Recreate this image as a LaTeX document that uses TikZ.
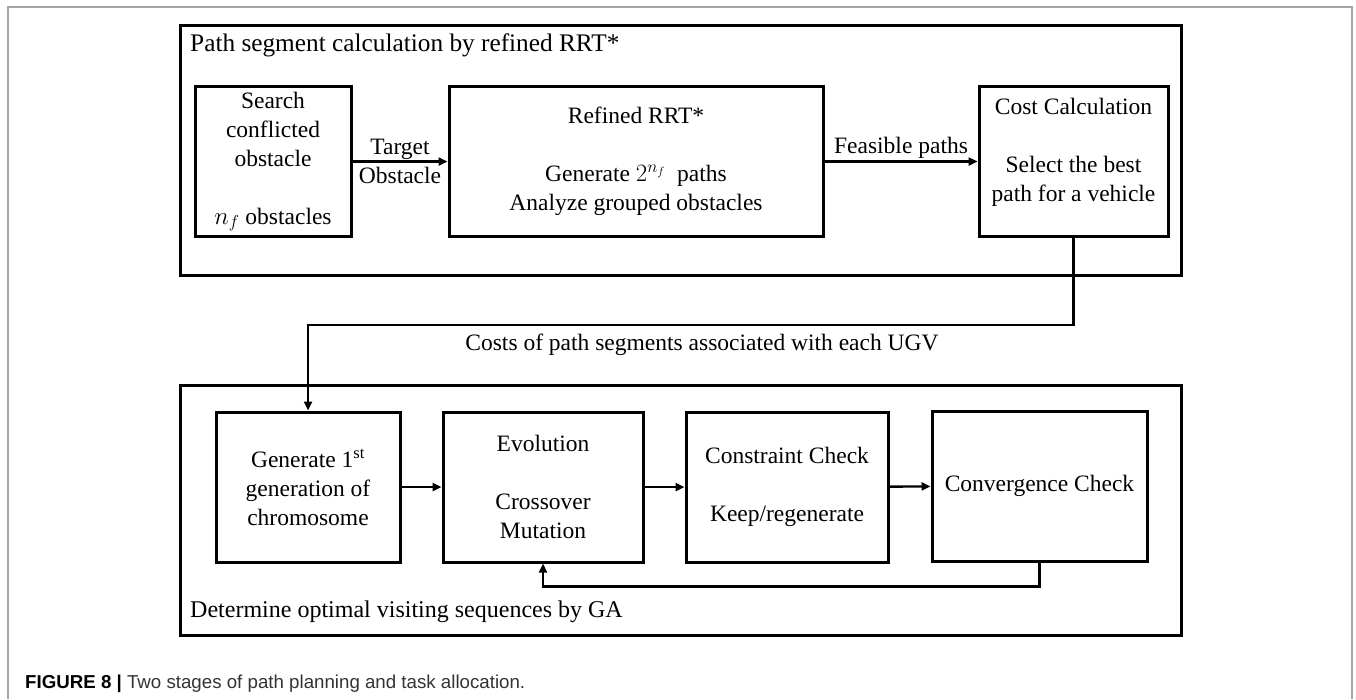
\documentclass[tikz,border=0pt]{standalone}
\usepackage{fontspec}
\setmainfont{Liberation Serif}
\newfontfamily\capfont{Liberation Sans}
\usetikzlibrary{arrows.meta}

\begin{document}
\begin{tikzpicture}[x=1pt,y=-1pt,font=\fontsize{23.5}{29}\selectfont]
    \tikzset{
        stage/.style={draw,line width=3pt,minimum width=1001pt,minimum height=250pt,
            inner sep=0pt},
        block/.style={draw,line width=3pt,minimum height=150pt,inner sep=0pt,align=center},
        txt/.style={inner sep=0pt,align=center},
        arr/.style={line width=2.4pt,-{Triangle[length=9pt,width=8pt]}}
    }
    \useasboundingbox (0,0) rectangle (1356,699);
    % frame
    \draw[gray!70,line width=1.3pt] (8,699) -- (8,7) -- (1352,7) -- (1352,699);
    % stage 1
    \node[stage] (top) at (680.5,150) {};
    \node[txt,anchor=west,font=\fontsize{25.3}{30}\selectfont] (toplbl) at (190,45)
        {Path segment calculation by refined RRT*};
    \node[block,minimum width=156pt] (search) at (273,161.5)
        {Search\\conflicted\\obstacle\\~\\$n_f$ obstacles};
    \node[block,minimum width=374pt] (rrt) at (636,161.5)
        {Refined RRT*\\~\\Generate $2^{n_f}$\ \ paths\\Analyze grouped obstacles};
    \node[block,minimum width=189pt] (cost) at (1073.5,161.5) {};
    \node[txt] (costtxt) at (1073.5,152.5)
        {Cost Calculation\\~\\Select the best\\path for a vehicle};
    \draw[arr] (search) -- node[txt] (target) {Target\\Obstacle} (rrt);
    \draw[arr] (rrt) -- node[txt,above=2pt] (feasible) {Feasible paths} (cost);
    % stage 2
    \node[stage] (bottom) at (680.5,510) {};
    \node[txt,anchor=west,font=\fontsize{24}{29}\selectfont] (bottomlbl) at (190,612)
        {Determine optimal visiting sequences by GA};
    \node[block,minimum width=184pt] (gen) at (308,487)
        {Generate 1\textsuperscript{st}\\generation of\\chromosome};
    \node[block,minimum width=200pt] (evo) at (543,487)
        {Evolution\\~\\Crossover\\Mutation};
    \node[block,minimum width=202pt] (cons) at (787,487)
        {Constraint Check\\~\\Keep/regenerate};
    \node[block,minimum width=215pt] (conv) at (1039.5,486) {Convergence Check};
    \draw[arr] (gen) -- (evo);
    \draw[arr] (evo) -- (cons);
    \draw[arr] (cons) -- (conv);
    \draw[arr] (conv.south) -- ++(0,24) -| (evo.south);
    % link between stages
    \draw[arr] (cost.south) -- ++(0,87) -| (gen.north);
    \node[txt] (costs) at (702,345) {Costs of path segments associated with each UGV};
    % caption
    \node[anchor=base west,inner sep=0pt,font=\capfont\fontsize{18.7}{23}\selectfont] (caption)
        at (25,688) {\textbf{FIGURE 8 |} \textcolor{black!80}{Two stages of path planning and task allocation.}};
\end{tikzpicture}
\end{document}
